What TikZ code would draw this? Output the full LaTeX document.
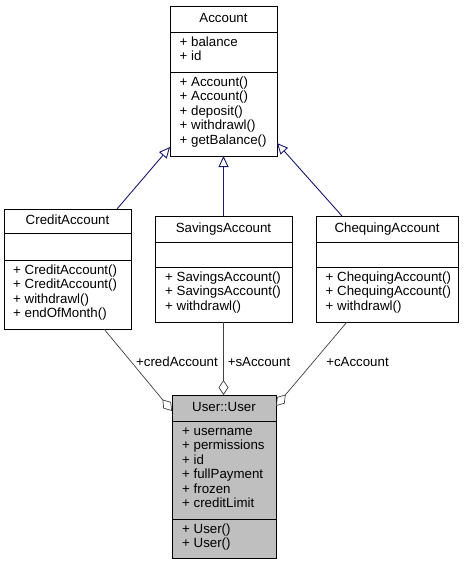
\documentclass[tikz,border=0pt]{standalone}
\usepackage{fontspec}
\setmainfont{Liberation Sans}
\usetikzlibrary{arrows.meta}
\definecolor{edgeblue}{HTML}{191970}
\definecolor{edgegrey}{HTML}{404040}
\definecolor{userfill}{HTML}{BFBFBF}

\begin{document}
\begin{tikzpicture}[x=1pt, y=-1pt,
		every node/.style={font=\fontsize{13.3}{14.5}\selectfont},
		classbox/.style={draw, line width=0.9pt, inner sep=0pt, outer sep=0pt},
		divider/.style={line width=0.9pt},
		classname/.style={inner sep=0pt, text height=9.6pt, text depth=2.8pt},
		member/.style={anchor=west, inner sep=0pt, text height=9.6pt, text depth=2.8pt},
		extends/.style={draw=edgeblue, line width=0.9pt, -{Triangle[open, length=11pt, width=10pt]}},
		uses/.style={draw=edgegrey, line width=0.7pt, -{Diamond[open, length=15pt, width=10pt]}},
		role/.style={inner sep=0pt}]
					\useasboundingbox (0,0) rectangle (467,565);
					% Account
					\node[classbox, minimum width=107pt, minimum height=150pt] (account) at (223.5,81) {};
					\draw[divider] ([yshift=-26pt]account.north west) -- ([yshift=-26pt]account.north east);
					\draw[divider] ([yshift=-66pt]account.north west) -- ([yshift=-66pt]account.north east);
					\node[classname] (accountname) at (223.5,19) {Account};
					\foreach \t [count=\i] in {balance,id}
						\node[member] (accounta\i) at (179.5,{43+14.5*(\i-1)}) {+ \t};
					\foreach \t [count=\i] in {Account(),Account(),deposit(),withdrawl(),getBalance()}
						\node[member] (accountm\i) at (179.5,{83+14.5*(\i-1)}) {+ \t};
					% CreditAccount
					\node[classbox, minimum width=127pt, minimum height=120pt] (credit) at (67.5,269) {};
					\draw[divider] ([yshift=-24pt]credit.north west) -- ([yshift=-24pt]credit.north east);
					\draw[divider] ([yshift=-51pt]credit.north west) -- ([yshift=-51pt]credit.north east);
					\node[classname] (creditname) at (67.5,221) {CreditAccount};
					\foreach \t [count=\i] in {CreditAccount(),CreditAccount(),withdrawl(),endOfMonth()}
						\node[member] (creditm\i) at (13,{271+14.5*(\i-1)}) {+ \t};
					% SavingsAccount
					\node[classbox, minimum width=137pt, minimum height=106pt] (savings) at (223.5,269) {};
					\draw[divider] ([yshift=-26pt]savings.north west) -- ([yshift=-26pt]savings.north east);
					\draw[divider] ([yshift=-51pt]savings.north west) -- ([yshift=-51pt]savings.north east);
					\node[classname] (savingsname) at (223.5,229) {SavingsAccount};
					\foreach \t [count=\i] in {SavingsAccount(),SavingsAccount(),withdrawl()}
						\node[member] (savingsm\i) at (165,{278+14.5*(\i-1)}) {+ \t};
					% ChequingAccount
					\node[classbox, minimum width=142pt, minimum height=106pt] (chequing) at (387,269) {};
					\draw[divider] ([yshift=-26pt]chequing.north west) -- ([yshift=-26pt]chequing.north east);
					\draw[divider] ([yshift=-51pt]chequing.north west) -- ([yshift=-51pt]chequing.north east);
					\node[classname] (chequingname) at (387,229) {ChequingAccount};
					\foreach \t [count=\i] in {ChequingAccount(),ChequingAccount(),withdrawl()}
						\node[member] (chequingm\i) at (325.5,{278+14.5*(\i-1)}) {+ \t};
					% User::User
					\node[classbox, fill=userfill, minimum width=104pt, minimum height=163pt] (user) at (224,476.5) {};
					\draw[divider] ([yshift=-26pt]user.north west) -- ([yshift=-26pt]user.north east);
					\draw[divider] ([yshift=-124pt]user.north west) -- ([yshift=-124pt]user.north east);
					\node[classname] (username) at (224,408) {User::User};
					\foreach \t [count=\i] in {username,permissions,id,fullPayment,frozen,creditLimit}
						\node[member] (usera\i) at (182,{432+14.5*(\i-1)}) {+ \t};
					\foreach \t [count=\i] in {User(),User()}
						\node[member] (userm\i) at (182,{530+14.5*(\i-1)}) {+ \t};
					% Inheritance
					\draw[extends] ([xshift=-14pt]credit.north east) -- ([yshift=9pt]account.south west);
					\draw[extends] (savings.north) -- (account.south);
					\draw[extends] ([xshift=26pt]chequing.north west) -- ([yshift=13pt]account.south east);
					% Members of User
					\draw[uses] ([xshift=-27pt]credit.south east) -- ([yshift=-16pt]user.north west);
					\draw[uses] (savings.south) -- (savings.south |- user.north);
					\draw[uses] ([xshift=31pt]chequing.south west) -- ([yshift=-11pt]user.north east);
					\node[role] (credrole) at (177,362) {+credAccount};
					\node[role] (srole) at (259,362) {+sAccount};
					\node[role] (crole) at (357.5,362) {+cAccount};
				\end{tikzpicture}
\end{document}
